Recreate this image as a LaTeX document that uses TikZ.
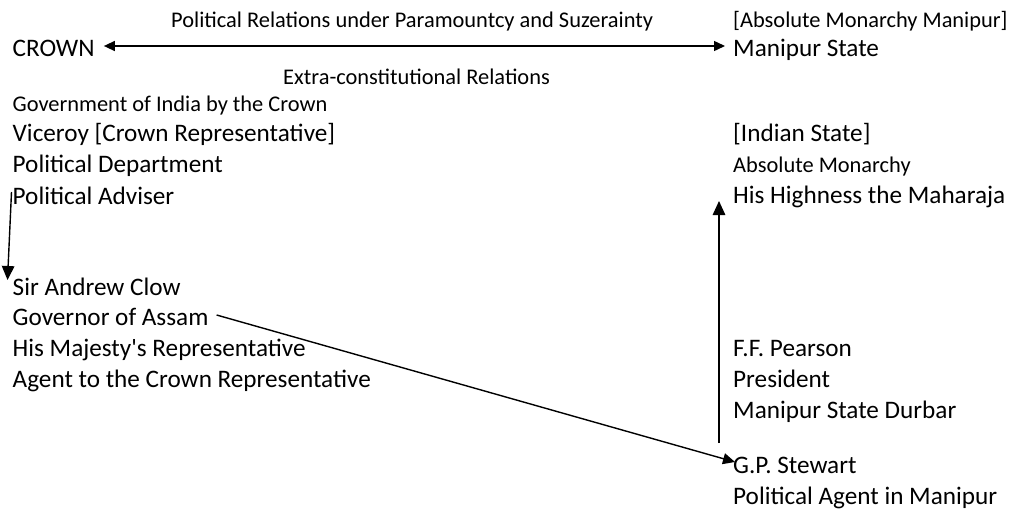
\documentclass[tikz,border=0pt]{standalone}
\usepackage{fontspec}
\setmainfont{Carlito}
\usetikzlibrary{arrows.meta}
\tikzset{
  big/.style={anchor=base west,inner sep=0pt,font=\fontsize{25.2}{25.2}\selectfont},
  small/.style={anchor=base west,inner sep=0pt,font=\fontsize{22.4}{22.4}\selectfont},
  arrh/.style={line width=1.4pt,{Triangle[length=11pt,width=10pt]}-{Triangle[length=11pt,width=10pt]}},
  arr/.style={line width=1.4pt,-{Triangle[length=14pt,width=12.5pt]}},
  arrd/.style={line width=1.4pt,-{Triangle[length=12pt,width=11pt]}}
}
\begin{document}
\begin{tikzpicture}[x=1pt,y=-1pt]
\useasboundingbox[fill=white] (0,0) rectangle (1015,517);
% top
\node[small] (pr) at (171,27) {Political Relations under Paramountcy and Suzerainty};
\node[small] (amm) at (733,27) {[Absolute Monarchy Manipur]};
\node[big] (crown) at (12.5,56) {CROWN};
\node[big] (ms) at (733,56) {Manipur State};
\node[small] (ecr) at (283,84) {Extra-constitutional Relations};
% left column
\node[small] (goi) at (12.5,111) {Government of India by the Crown};
\node[big] (vic) at (12.5,141) {Viceroy [Crown Representative]};
\node[big] (pd) at (12.5,172) {Political Department};
\node[big] (pa) at (12.5,204) {Political Adviser};
\node[big] (sac) at (12.5,295) {Sir Andrew Clow};
\node[big] (goa) at (12.5,325) {Governor of Assam};
\node[big] (hmr) at (12.5,356) {His Majesty\textquotesingle s Representative};
\node[big] (acr) at (12.5,387) {Agent to the Crown Representative};
% right column
\node[big] (is) at (733,141) {[Indian State]};
\node[small] (am) at (733,172) {Absolute Monarchy};
\node[big] (hhm) at (733,203) {His Highness the Maharaja};
\node[big] (ffp) at (733,356) {F.F. Pearson};
\node[big] (pres) at (733,387) {President};
\node[big] (msd) at (733,418) {Manipur State Durbar};
\node[big] (gps) at (733,473) {G.P. Stewart};
\node[big] (pam) at (733,504) {Political Agent in Manipur};
% connectors
\coordinate (c1) at ([xshift=9pt,yshift=10pt]crown.base east);
\coordinate (c2) at ([xshift=-8pt,yshift=10pt]ms.base west);
\draw[arrh] (c1) -- (c2);
\coordinate (pa1) at ([xshift=-1pt,yshift=12pt]pa.base west);
\coordinate (sac1) at ([xshift=-5pt,yshift=15pt]sac.base west);
\draw[arr] (pa1) -- (sac1);
\coordinate (goa1) at ([xshift=8pt,yshift=10pt]goa.base east);
\coordinate (gps1) at ([xshift=2pt,yshift=11pt]gps.base west);
\draw[arrd] (goa1) -- (gps1);
\coordinate (msd1) at ([xshift=-14pt,yshift=-25pt]msd.base west);
\coordinate (hhm1) at ([xshift=-14pt,yshift=2pt]hhm.base west);
\draw[arr] (msd1) -- (hhm1);
\end{tikzpicture}
\end{document}
